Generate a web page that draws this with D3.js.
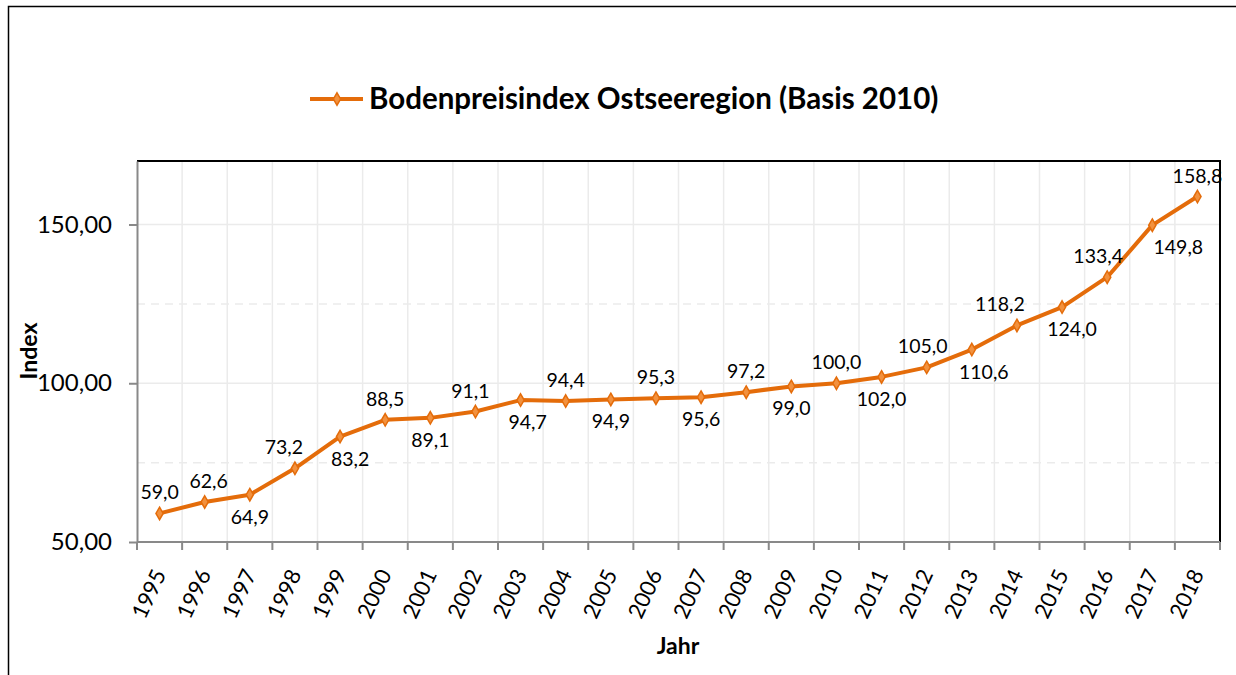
<!DOCTYPE html>
<html>
<head>
<meta charset="utf-8">
<script src="https://cdn.jsdelivr.net/npm/d3@7"></script>
<style>
  body { margin: 0; background: #fff; }
  text { font-family: Lato, "Open Sans", sans-serif; }
</style>
</head>
<body>
<div class="canvas"></div>
<script>
// data
const years = ['1995','1996','1997','1998','1999','2000','2001','2002','2003','2004','2005','2006',
               '2007','2008','2009','2010','2011','2012','2013','2014','2015','2016','2017','2018'];
const values = [59.0, 62.6, 64.9, 73.2, 83.2, 88.5, 89.1, 91.1, 94.7, 94.4, 94.9, 95.3,
                95.6, 97.2, 99.0, 100.0, 102.0, 105.0, 110.6, 118.2, 124.0, 133.4, 149.8, 158.8];
// label position per point: 'a' above, 'b' below
const labelPos = ['a','a','b','a','b','a','b','a','b','a','b','a',
                  'b','a','b','a','b','a','b','a','b','a','b','a'];
const majorTicks = [50, 100, 150];
const minorTicks = [75, 125];
const seriesName = 'Bodenpreisindex Ostseeregion (Basis 2010)';

const W = 1236, H = 675;
const orange = '#E46C0A';
const markerFill = '#F2913E';

// sideways nudges Excel applied to some labels to keep them off the line
const labelNudge = {'1996': 4, '1998': -11, '1999': 10, '2002': -5, '2003': 7,
                    '2012': -4, '2013': 12, '2014': -17, '2015': 10, '2016': -9, '2017': 26};

const svg = d3.select('.canvas')
    .append('svg')
        .attr('width', W)
        .attr('height', H);

// outer frame
svg.append('rect')
    .attr('x', 8.5).attr('y', 6.5)
    .attr('width', W + 10).attr('height', H + 10)
    .attr('fill', 'none')
    .attr('stroke', '#000')
    .attr('stroke-width', 1.5);

const plot = {left: 137, top: 161, right: 1220, bottom: 542};

const x = d3.scaleBand()
    .domain(years)
    .range([plot.left, plot.right])
    .padding(0);

const y = d3.scaleLinear()
    .domain([50, 170])
    .range([plot.bottom, plot.top]);

const cx = d => x(d) + x.bandwidth() / 2;

// vertical grid at category boundaries
const g = svg.append('g');
g.selectAll('line.vgrid')
    .data(years.slice(1))
    .enter().append('line')
    .attr('x1', d => x(d)).attr('x2', d => x(d))
    .attr('y1', plot.top).attr('y2', plot.bottom)
    .attr('stroke', '#EBEBEB')
    .attr('stroke-width', 1.5);

// horizontal grid
g.selectAll('line.hmaj')
    .data(majorTicks.slice(1))
    .enter().append('line')
    .attr('x1', plot.left).attr('x2', plot.right)
    .attr('y1', d => y(d)).attr('y2', d => y(d))
    .attr('stroke', '#EBEBEB')
    .attr('stroke-width', 1.5);
g.selectAll('line.hmin')
    .data(minorTicks)
    .enter().append('line')
    .attr('x1', plot.left).attr('x2', plot.right)
    .attr('y1', d => y(d)).attr('y2', d => y(d))
    .attr('stroke', '#EBEBEB')
    .attr('stroke-width', 1.5)
    .attr('stroke-dasharray', '8,6');

// plot frame top/right
svg.append('path')
    .attr('d', `M${plot.left},${plot.top}H${plot.right}V${plot.bottom}`)
    .attr('fill', 'none')
    .attr('stroke', '#000')
    .attr('stroke-width', 2);

// y axis
const yAxis = d3.axisLeft(y)
    .tickValues(majorTicks)
    .tickSize(8)
    .tickSizeOuter(0)
    .tickPadding(17)
    .tickFormat(d => d3.format('.2f')(d).replace('.', ','));
const yAxisGroup = svg.append('g')
    .attr('transform', `translate(${plot.left},0)`)
    .call(yAxis);
yAxisGroup.select('.domain').attr('stroke', '#898989').attr('stroke-width', 2);
yAxisGroup.selectAll('.tick line').attr('stroke', '#898989').attr('stroke-width', 2);
yAxisGroup.selectAll('.tick text')
    .attr('font-size', 24)
    .attr('fill', '#000');

// x axis with ticks on category boundaries
const xAxisGroup = svg.append('g')
    .attr('transform', `translate(0,${plot.bottom})`);
xAxisGroup.append('line')
    .attr('x1', plot.left).attr('x2', plot.right)
    .attr('stroke', '#898989').attr('stroke-width', 2);
xAxisGroup.selectAll('line.tk')
    .data(years.concat(['end']))
    .enter().append('line')
    .attr('x1', (d, i) => i < years.length ? x(d) : plot.right)
    .attr('x2', (d, i) => i < years.length ? x(d) : plot.right)
    .attr('y1', 0).attr('y2', 8)
    .attr('stroke', '#898989').attr('stroke-width', 2);
xAxisGroup.selectAll('text.yr')
    .data(years)
    .enter().append('text')
    .attr('transform', d => `translate(${cx(d) + 7},32) rotate(-65)`)
    .attr('text-anchor', 'end')
    .attr('font-size', 22)
    .text(d => d);

// axis titles
svg.append('text')
    .attr('transform', `translate(37,351) rotate(-90)`)
    .attr('text-anchor', 'middle')
    .attr('font-size', 23)
    .attr('font-weight', 'bold')
    .text('Index');
svg.append('text')
    .attr('x', 678).attr('y', 654)
    .attr('text-anchor', 'middle')
    .attr('font-size', 23)
    .attr('font-weight', 'bold')
    .text('Jahr');

// line
const line = d3.line()
    .x((d, i) => cx(years[i]))
    .y(d => y(d));
svg.append('path')
    .datum(values)
    .attr('d', line)
    .attr('fill', 'none')
    .attr('stroke', orange)
    .attr('stroke-width', 4)
    .attr('stroke-linejoin', 'round');

const diamond = d3.symbol().type(d3.symbolDiamond).size(45);
svg.selectAll('path.pt')
    .data(values)
    .enter().append('path')
    .attr('d', diamond)
    .attr('transform', (d, i) => `translate(${cx(years[i])},${y(d)})`)
    .attr('fill', markerFill)
    .attr('stroke', orange)
    .attr('stroke-width', 1.5);

// data labels
svg.selectAll('text.lbl')
    .data(values)
    .enter().append('text')
    .attr('x', (d, i) => cx(years[i]) + (labelNudge[years[i]] || 0))
    .attr('y', (d, i) => y(d) + (labelPos[i] === 'a' ? -14 : 29))
    .attr('text-anchor', 'middle')
    .attr('font-size', 19.5)
    .attr('fill', '#000')
    .text(d => d3.format('.1f')(d).replace('.', ','));

// legend
const leg = svg.append('g').attr('transform', 'translate(310,99)');
leg.append('line')
    .attr('x1', 0).attr('x2', 53)
    .attr('stroke', orange).attr('stroke-width', 4);
leg.append('path')
    .attr('d', diamond)
    .attr('transform', 'translate(27,0)')
    .attr('fill', markerFill)
    .attr('stroke', orange)
    .attr('stroke-width', 1.5);
leg.append('text')
    .attr('x', 59).attr('y', 10)
    .attr('font-size', 29.5)
    .attr('font-weight', 'bold')
    .text(seriesName);
</script>
</body>
</html>
